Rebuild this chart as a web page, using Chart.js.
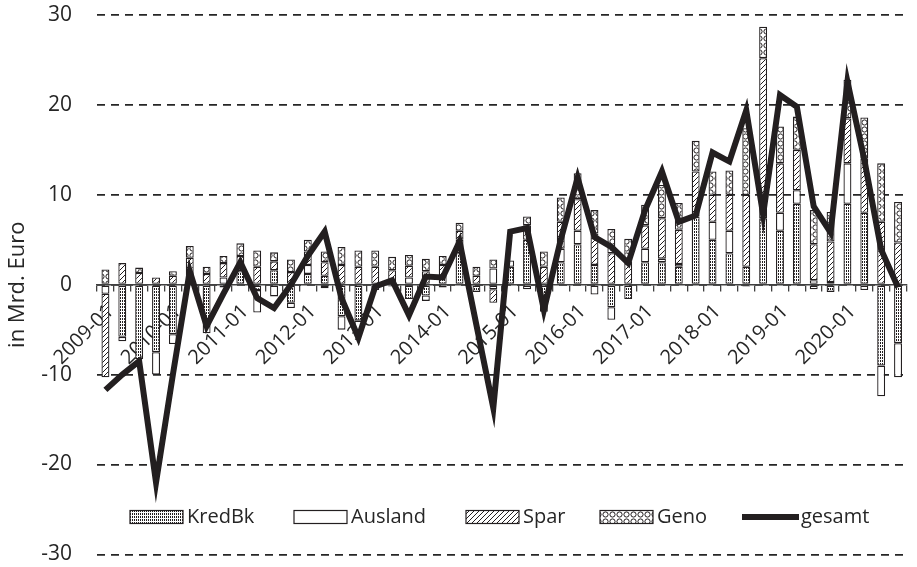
<!DOCTYPE html>
<html>
<head>
<meta charset="utf-8">
<script src="https://cdn.jsdelivr.net/npm/chart.js@4.4.1/dist/chart.umd.min.js"></script>
<style>
  html, body { margin: 0; padding: 0; background: #fff; overflow: hidden; }
  #wrap { width: 924px; height: 567px; }
</style>
</head>
<body>
<div id="wrap"><canvas id="chart" width="924" height="567"></canvas></div>
<script>
// --- DONNÉES ---
const years = ['2009', '2010', '2011', '2012', '2013', '2014', '2015', '2016', '2017', '2018', '2019', '2020'];
const months = ['01', '04', '07', '10'];
const quarters = years.flatMap(y => months.map(m => `${y}-${m}`));

const kredBk = [0, -5.8, -8.3, -7.5, -5.5, 0, -4.6, -0.3, 1.5, -0.6, 1.6, -2.0,
  1.2, 1.0, -3.5, -4.0, -0.6, -0.2, -1.6, -1.2, 1.0, 3.5, -0.8, -0.5,
  2.0, 5.0, -2.0, 2.5, 4.5, 2.2, -2.5, -1.6, 2.5, 2.5, 2.0, 7.6,
  5.0, 3.5, 2.0, 7.4, 6.0, 9.0, -0.5, -0.8, 9.0, 8.0, -9.0, -6.5];
const ausland = [-1.0, -0.5, 0, -2.5, -1.1, 0.5, -0.8, 0.8, 0, -2.5, -1.3, -0.6,
  1.0, -0.4, -1.5, -1.3, 0, 0, 0.8, -0.6, -0.3, 1.5, 0, 1.8,
  0.7, -0.5, -1.0, 1.5, 1.5, -1.1, -1.4, 0, 1.5, 0.4, 0.3, 0,
  2.0, 2.5, -0.2, 0, 2.0, 1.5, 0.5, 0.3, 4.5, -0.6, -3.4, -3.8];
const spar = [-9.3, 2.4, 1.3, 0.8, 1.0, 2.5, 1.2, 1.6, 1.7, 2.0, 1.0, 1.4,
  1.5, 1.5, 2.2, 2.0, 2.0, 1.6, 1.3, 1.5, 1.2, 1.0, 1.0, -1.5,
  0, 1.6, 2.0, 3.0, 3.5, 3.5, 3.5, 2.6, 2.6, 4.5, 3.8, 5.0,
  3.0, 4.0, 8.0, 17.8, 5.5, 4.5, 4.0, 4.5, 5.0, 6.0, 7.0, 4.7];
const geno = [1.7, 0, 0.6, 0, 0.5, 1.3, 0.8, 0.8, 1.4, 1.8, 1.0, 1.4,
  1.3, 1.2, 2.0, 1.8, 1.8, 1.5, 1.2, 1.4, 1.0, 0.9, 1.0, 1.0,
  0, 1.0, 1.7, 2.7, 2.9, 2.6, 2.7, 2.5, 2.3, 3.7, 3.0, 3.4,
  2.6, 2.7, 7.4, 3.5, 4.1, 3.7, 3.8, 3.3, 4.3, 4.6, 6.5, 4.5];
const gesamt = [-11.7, -10.0, -8.5, -22.0, -10.0, 1.5, -4.6, -1.0, 2.5, -1.5, -2.6, 0.0,
  3.2, 5.9, -1.5, -5.9, -0.2, 0.5, -3.4, 0.9, 0.8, 4.8, -4.5, -13.7,
  5.9, 6.3, -2.8, 5.0, 11.9, 5.3, 4.2, 2.4, 8.3, 12.6, 7.0, 7.7,
  14.7, 13.7, 19.4, 7.8, 21.1, 19.8, 8.7, 5.8, 22.6, 13.9, 3.9, -0.3];

const yTicks = [-30, -20, -10, 0, 10, 20, 30];

// --- MOTIFS ---
const INK = '#231f20';
const TEXT = '#262626';
const FONT = 'Open Sans';

function makePattern(w, h, draw) {
  const c = document.createElement('canvas');
  c.width = w; c.height = h;
  const g = c.getContext('2d');
  g.fillStyle = '#fff';
  g.fillRect(0, 0, w, h);
  g.fillStyle = INK;
  g.strokeStyle = INK;
  draw(g);
  return g.createPattern(c, 'repeat');
}

const dots = makePattern(2, 3, g => { g.fillRect(0, 0, 1, 2); });
const hatch = makePattern(5, 5, g => {
  g.lineWidth = 1;
  g.beginPath(); g.moveTo(-1, 6); g.lineTo(6, -1); g.stroke();
});
const rings = makePattern(7, 7, g => {
  g.lineWidth = 1;
  g.beginPath(); g.arc(3.5, 3.5, 2.6, 0, Math.PI * 2); g.stroke();
});

// --- LÉGENDE MAISON (dans la zone du graphique) ---
const legendItems = [
  { label: 'KredBk', fill: dots, x: 130 },
  { label: 'Ausland', fill: '#fff', x: 294 },
  { label: 'Spar', fill: hatch, x: 466 },
  { label: 'Geno', fill: rings, x: 600 },
  { label: 'gesamt', line: true, x: 742 },
];

const insideLegend = {
  id: 'insideLegend',
  afterDraw(chart) {
    const ctx = chart.ctx;
    const cy = 517;
    ctx.save();
    ctx.font = `20px "${FONT}"`;
    ctx.textBaseline = 'middle';
    legendItems.forEach(it => {
      if (it.line) {
        ctx.strokeStyle = INK;
        ctx.lineWidth = 6;
        ctx.beginPath(); ctx.moveTo(it.x, cy); ctx.lineTo(it.x + 57, cy); ctx.stroke();
        ctx.fillStyle = TEXT;
        ctx.fillText(it.label, it.x + 59, cy);
      } else {
        ctx.fillStyle = it.fill;
        ctx.fillRect(it.x, cy - 6.5, 53, 13);
        ctx.strokeStyle = INK;
        ctx.lineWidth = 1.2;
        ctx.strokeRect(it.x, cy - 6.5, 53, 13);
        ctx.fillStyle = TEXT;
        ctx.fillText(it.label, it.x + 57, cy);
      }
    });
    ctx.restore();
  }
};

const barBase = {
  type: 'bar',
  borderColor: INK,
  borderWidth: 1.3,
  borderSkipped: false,
  barPercentage: 0.47,
  categoryPercentage: 1,
  order: 1,
};

new Chart(document.getElementById('chart'), {
  data: {
    labels: quarters,
    datasets: [
      { ...barBase, label: 'KredBk', data: kredBk, backgroundColor: dots },
      { ...barBase, label: 'Ausland', data: ausland, backgroundColor: '#fff' },
      { ...barBase, label: 'Spar', data: spar, backgroundColor: hatch },
      { ...barBase, label: 'Geno', data: geno, backgroundColor: rings },
      {
        type: 'line', label: 'gesamt', data: gesamt, order: 0,
        borderColor: INK, borderWidth: 6, pointRadius: 0, tension: 0,
        borderJoinStyle: 'miter', fill: false,
      },
    ],
  },
  options: {
    responsive: false,
    animation: false,
    layout: { padding: { top: 15, bottom: 12, left: 0, right: 0 } },
    plugins: { legend: { display: false }, tooltip: { enabled: false } },
    scales: {
      x: {
        stacked: true,
        position: { y: 0 },
        offset: true,
        grid: { display: true, drawOnChartArea: false, drawTicks: true, tickLength: 6, offset: true, color: '#404040', lineWidth: 1.3 },
        border: { display: true, color: '#404040', width: 1.5 },
        ticks: {
          autoSkip: false, maxRotation: 45, minRotation: 45, padding: 9, labelOffset: 5,
          color: TEXT, font: { family: FONT, size: 20 },
          callback: (v, i) => (i % 4 === 0 ? quarters[i] : ''),
        },
      },
      y: {
        stacked: true,
        min: -30, max: 30,
        afterBuildTicks: s => { s.ticks = yTicks.map(v => ({ value: v })); },
        afterFit: s => { s.width = 97; },
        grid: { color: '#262626', lineWidth: 1.8, drawTicks: true, tickLength: 25, tickColor: 'rgba(0,0,0,0)' },
        border: { display: false, dash: [8, 6] },
        ticks: { padding: 0, color: TEXT, font: { family: FONT, size: 21 } },
        title: { display: true, text: 'in Mrd. Euro', color: TEXT, font: { family: FONT, size: 22 }, padding: { top: 5 } },
      },
    },
  },
  plugins: [insideLegend],
});
</script>
</body>
</html>
